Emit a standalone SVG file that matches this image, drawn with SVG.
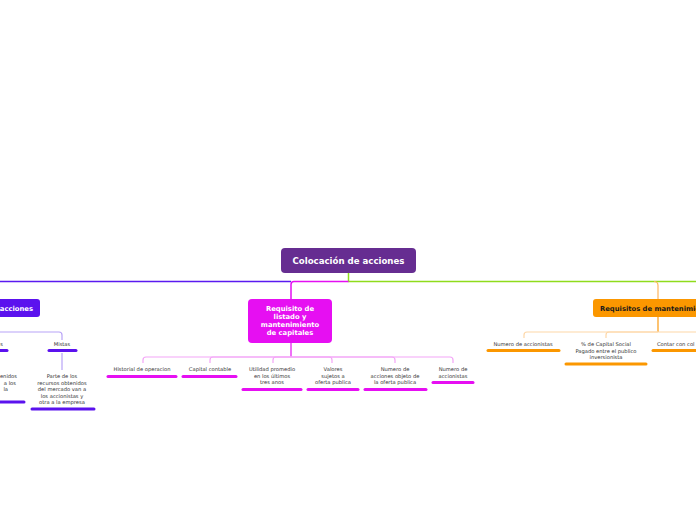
<svg xmlns="http://www.w3.org/2000/svg" width="696" height="520" viewBox="0 0 696 520">
<style>
.lbl{font-family:"DejaVu Sans","Liberation Sans",sans-serif;font-size:5.2px;fill:#333;text-anchor:middle}
.nt{font-family:"DejaVu Sans","Liberation Sans",sans-serif;font-weight:bold;fill:#fff}
.c{fill:none;stroke-width:1.2}
.m{fill:none;stroke-width:1.5}
.ul{fill:none;stroke-width:3;stroke-linecap:round}
.ulb{stroke:#5b12ee}.ulm{stroke:#e60ff2}.ulo{stroke:#fb9700}
</style>
<rect width="696" height="520" fill="#fff"/>
<g id="connectors">
  <path class="m" stroke="#8fdc1c" d="M348.5,273 V281.5 H696"/>
  <path class="m" stroke="#5a1af0" d="M291,281.5 H0"/>
  <path class="m" stroke="#e40ff2" d="M348.5,281.5 H294 Q291,281.5 291,284.5 V299"/>
  <path class="c" stroke="#fdb65f" d="M654,281.5 Q658,281.5 658,285.5 V299"/>
  <path class="c" stroke="#b8a3f7" d="M0,332 H59 Q62,332 62,335 V340"/>
  <path class="c" stroke="#b8a3f7" d="M62,353 V370"/>
  <path class="c" stroke="#e40ff2" d="M291,343 V357"/>
  <g class="c" stroke="#f3a5f7">
    <path d="M291,357 H146 Q143,357 143,360 V363"/>
    <path d="M291,357 H213 Q210,357 210,360 V363"/>
    <path d="M291,357 H276 Q273,357 273,360 V363"/>
    <path d="M291,357 H329 Q332,357 332,360 V363"/>
    <path d="M291,357 H392 Q395,357 395,360 V363"/>
    <path d="M291,357 H450 Q453,357 453,360 V363"/>
  </g>
  <path class="c" stroke="#fb9a12" d="M658,317 V332"/>
  <g class="c" stroke="#fdd7a8">
    <path d="M658,332 H527 Q524,332 524,335 V338"/>
    <path d="M658,332 H609 Q606,332 606,335 V338"/>
    <path d="M658,332 H696"/>
  </g>
</g>
<g id="root">
  <rect x="281" y="248" width="135" height="25" rx="4" fill="#662d91"/>
  <text class="nt" x="348.5" y="264" font-size="8.6" text-anchor="middle">Colocación de acciones</text>
</g>
<g id="tipos">
  <rect x="-20" y="299" width="60" height="18" rx="3" fill="#5b12ee"/>
  <text class="nt" x="33" y="310.6" font-size="6.8" text-anchor="end">acciones</text>
</g>
<g id="tipo-left">
  <text class="lbl" x="3" y="346" style="text-anchor:end">s</text>
  <path class="ul ulb" d="M-10,350.5 H7"/>
</g>
<g id="tipo-left-desc">
  <text class="lbl" style="text-anchor:end"><tspan x="17" y="378">obtenidos</tspan><tspan x="16" y="384.5">a los</tspan><tspan x="8" y="391">la</tspan></text>
  <path class="ul ulb" d="M-10,402 H24"/>
</g>
<g id="mistas">
  <text class="lbl" x="62" y="346">Mistas</text>
  <path class="ul ulb" d="M49,350.5 H76"/>
</g>
<g id="mistas-desc">
  <text class="lbl"><tspan x="62" y="378">Parte de los</tspan><tspan x="62" y="384.5">recursos obtenidos</tspan><tspan x="62" y="391">del mercado van a</tspan><tspan x="62" y="397.5">los accionistas y</tspan><tspan x="62" y="404">otra a la empresa</tspan></text>
  <path class="ul ulb" d="M32,409 H94"/>
</g>
<g id="requisito">
  <rect x="248" y="299" width="84" height="44" rx="4" fill="#e60ff2"/>
  <text class="nt" font-size="6.8" text-anchor="middle"><tspan x="290" y="311.4">Requisito de</tspan><tspan x="290" y="319.4">listado y</tspan><tspan x="290" y="327.4">mantenimiento</tspan><tspan x="290" y="335.4">de capitales</tspan></text>
</g>
<g id="historial">
  <text class="lbl" x="142" y="371">Historial de operacion</text>
  <path class="ul ulm" d="M108,376.5 H176"/>
</g>
<g id="capital">
  <text class="lbl" x="210" y="371">Capital contable</text>
  <path class="ul ulm" d="M183,376.5 H236"/>
</g>
<g id="utilidad">
  <text class="lbl"><tspan x="272" y="371">Utilidad promedio</tspan><tspan x="272" y="377.5">en los últimos</tspan><tspan x="272" y="384">tres anos</tspan></text>
  <path class="ul ulm" d="M243,389.5 H301"/>
</g>
<g id="valores">
  <text class="lbl"><tspan x="333" y="371">Valores</tspan><tspan x="333" y="377.5">sujetos a</tspan><tspan x="333" y="384">oferta publica</tspan></text>
  <path class="ul ulm" d="M308,389.5 H358"/>
</g>
<g id="numero-acciones">
  <text class="lbl"><tspan x="395" y="371">Numero de</tspan><tspan x="395" y="377.5">acciones objeto de</tspan><tspan x="395" y="384">la oferta publica</tspan></text>
  <path class="ul ulm" d="M365,389.5 H426"/>
</g>
<g id="numero-accionistas-m">
  <text class="lbl"><tspan x="453" y="371">Numero de</tspan><tspan x="453" y="377.5">accionistas</tspan></text>
  <path class="ul ulm" d="M433,382.5 H473"/>
</g>
<g id="mantenimiento">
  <rect x="593" y="299" width="120" height="18" rx="3" fill="#fb9700"/>
  <text class="nt" x="600" y="310.6" font-size="6.8" style="fill:#1a1a1a">Requisitos de mantenimiento</text>
</g>
<g id="numero-accionistas-o">
  <text class="lbl" x="523" y="346">Numero de accionistas</text>
  <path class="ul ulo" d="M488,350.5 H559"/>
</g>
<g id="capital-social">
  <text class="lbl"><tspan x="606" y="346">% de Capital Social</tspan><tspan x="606" y="352.5">Pagado entre el publico</tspan><tspan x="606" y="359">inversionista</tspan></text>
  <path class="ul ulo" d="M566,364 H646"/>
</g>
<g id="contar">
  <text class="lbl" x="657" y="346" style="text-anchor:start">Contar con col</text>
  <path class="ul ulo" d="M653,350.5 H700"/>
</g>
</svg>
